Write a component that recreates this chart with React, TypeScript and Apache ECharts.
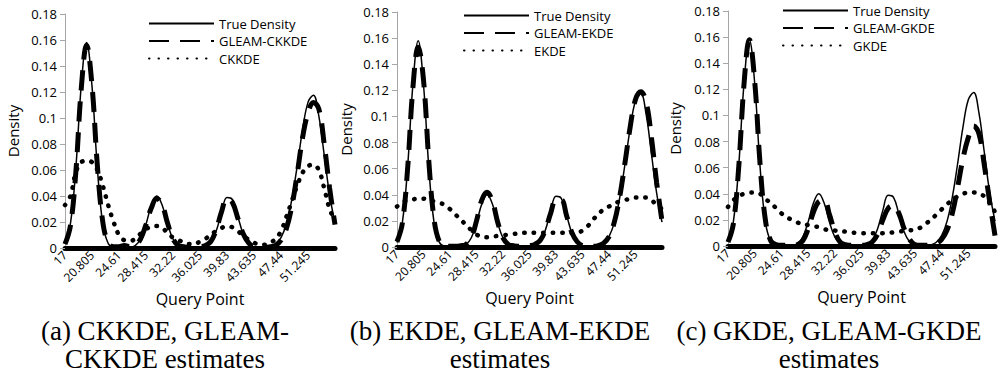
import React, { useEffect, useRef } from "react";
import * as echarts from "echarts";

const QUERY_POINTS = [
  "17", "17.761", "18.522", "19.283", "20.044", "20.805", "21.566", "22.327", "23.088", "23.849",
  "24.61", "25.371", "26.132", "26.893", "27.654", "28.415", "29.176", "29.937", "30.698", "31.459",
  "32.22", "32.981", "33.742", "34.503", "35.264", "36.025", "36.786", "37.547", "38.308", "39.069",
  "39.83", "40.591", "41.352", "42.113", "42.874", "43.635", "44.396", "45.157", "45.918", "46.679",
  "47.44", "48.201", "48.962", "49.723", "50.484", "51.245", "52.006", "52.767", "53.528", "54.289",
  "55.05",
];

const TICK_LABELS = ["17", "20.805", "24.61", "28.415", "32.22", "36.025", "39.83", "43.635", "47.44", "51.245"];

const TRUE_DENSITY = [
  0.0035, 0.0185, 0.061, 0.1245, 0.158, 0.1245, 0.061, 0.0185, 0.0035, 0.0004,
  0, 0, 0.0003, 0.0018, 0.0069, 0.0183, 0.0329, 0.04, 0.0329, 0.0183,
  0.0069, 0.0018, 0.0003, 0, 0, 0.0001, 0.0009, 0.0042, 0.013, 0.0273,
  0.0388, 0.0373, 0.0243, 0.0107, 0.0032, 0.0006, 0.0001, 0.0002, 0.0009, 0.0029,
  0.008, 0.0187, 0.0372, 0.063, 0.091, 0.112, 0.1175, 0.1017, 0.0716, 0.041,
  0.019,
];

const GLEAM_CKKDE = [
  0.003, 0.017, 0.058, 0.122, 0.156, 0.125, 0.063, 0.02, 0.004, 0.001,
  0.001, 0.002, 0.001, 0.002, 0.007, 0.018, 0.031, 0.038, 0.033, 0.019,
  0.007, 0.002, 0.001, 0.0005, 0.0005, 0.001, 0.002, 0.005, 0.014, 0.028,
  0.038, 0.035, 0.023, 0.011, 0.004, 0.001, 0.0005, 0.0005, 0.001, 0.002,
  0.006, 0.015, 0.032, 0.057, 0.085, 0.104, 0.112, 0.107, 0.08, 0.046,
  0.018,
];

const CKKDE = [
  0.033, 0.04, 0.058, 0.066, 0.067, 0.066, 0.06, 0.048, 0.033, 0.02,
  0.01, 0.006, 0.0055, 0.007, 0.011, 0.0145, 0.0165, 0.017, 0.0155, 0.0115,
  0.008, 0.006, 0.0045, 0.003, 0.003, 0.005, 0.007, 0.0105, 0.013, 0.0155,
  0.0165, 0.016, 0.013, 0.0095, 0.0065, 0.004, 0.003, 0.0025, 0.004, 0.007,
  0.013, 0.024, 0.036, 0.048, 0.058, 0.063, 0.064, 0.06, 0.046, 0.03,
  0.021,
];

const GLEAM_EKDE = [
  0.004, 0.018, 0.06, 0.122, 0.153, 0.128, 0.066, 0.021, 0.004, 0.001,
  0.0005, 0.0005, 0.001, 0.002, 0.007, 0.02, 0.036, 0.042, 0.035, 0.019,
  0.007, 0.002, 0.001, 0.0005, 0.0005, 0.001, 0.002, 0.005, 0.013, 0.026,
  0.036, 0.036, 0.024, 0.011, 0.004, 0.001, 0.0005, 0.0005, 0.001, 0.003,
  0.008, 0.019, 0.038, 0.064, 0.092, 0.113, 0.119, 0.111, 0.084, 0.049,
  0.02,
];

const EKDE = [
  0.031, 0.034, 0.036, 0.0365, 0.037, 0.037, 0.036, 0.035, 0.034, 0.032,
  0.029, 0.025, 0.021, 0.017, 0.013, 0.0095, 0.008, 0.0075, 0.008, 0.0085,
  0.009, 0.0095, 0.01, 0.0105, 0.011, 0.011, 0.011, 0.011, 0.011, 0.011,
  0.011, 0.011, 0.011, 0.0105, 0.011, 0.0125, 0.016, 0.021, 0.025, 0.029,
  0.031, 0.033, 0.035, 0.036, 0.037, 0.038, 0.038, 0.038, 0.036, 0.032,
  0.029,
];

const GLEAM_GKDE = [
  0.003, 0.017, 0.06, 0.124, 0.158, 0.126, 0.063, 0.02, 0.004, 0.001,
  0.0005, 0.0005, 0.0005, 0.001, 0.004, 0.013, 0.026, 0.034, 0.035, 0.024,
  0.011, 0.003, 0.001, 0.0005, 0.0005, 0.0005, 0.001, 0.003, 0.009, 0.02,
  0.029, 0.031, 0.025, 0.013, 0.005, 0.001, 0.0005, 0.0005, 0.001, 0.002,
  0.005, 0.012, 0.025, 0.045, 0.067, 0.083, 0.092, 0.086, 0.062, 0.034,
  0.008,
];

const GKDE = [
  0.03, 0.035, 0.038, 0.04, 0.041, 0.041, 0.04, 0.036, 0.033, 0.029,
  0.025, 0.022, 0.02, 0.018, 0.017, 0.016, 0.015, 0.0145, 0.013, 0.012,
  0.0118, 0.0115, 0.011, 0.0105, 0.01, 0.0097, 0.0097, 0.0097, 0.0097, 0.0098,
  0.01, 0.0105, 0.011, 0.0115, 0.012, 0.0125, 0.014, 0.017, 0.02, 0.024,
  0.028, 0.032, 0.035, 0.038, 0.04, 0.041, 0.041, 0.04, 0.038, 0.033,
  0.026,
];

const TRUE_NAME = "True Density";
const GLEAM_NAMES = ["GLEAM-CKKDE", "GLEAM-EKDE", "GLEAM-GKDE"];
const KDE_NAMES = ["CKKDE", "EKDE", "GKDE"];
const GLEAM_SERIES = [GLEAM_CKKDE, GLEAM_EKDE, GLEAM_GKDE];
const KDE_SERIES = [CKKDE, EKDE, GKDE];
const CAPTIONS = [
  ["(a) CKKDE, GLEAM-", "CKKDE estimates"],
  ["(b) EKDE, GLEAM-EKDE", "estimates"],
  ["(c) GKDE, GLEAM-GKDE", "estimates"],
];
const Y_AXIS_NAME = "Density";
const X_AXIS_NAME = "Query Point";

// layout (pixels)
const GRIDS = [
  { left: 65, top: 14, width: 270, height: 234 },
  { left: 397, top: 12, width: 265, height: 235 },
  { left: 728, top: 11, width: 267, height: 235 },
];
const Y_NAME_GAP = [45, 44, 46];
const LEGEND_POS = [
  { left: 148, top: 17 },
  { left: 463, top: 9 },
  { left: 782, top: 4 },
];
const CAPTION_X = [165, 500, 829];

const FONT = "'Open Sans', 'Noto Sans', sans-serif";

export default function App() {
  const ref = useRef<HTMLDivElement>(null);

  useEffect(() => {
    if (!ref.current) return;
    const chart = echarts.init(ref.current, undefined, { renderer: "svg" });

    const grid = GRIDS.map((g) => ({ ...g, containLabel: false }));

    const xAxis = GRIDS.map((_, k) => ({
      type: "category",
      gridIndex: k,
      data: QUERY_POINTS,
      boundaryGap: false,
      name: X_AXIS_NAME,
      nameLocation: "middle",
      nameGap: 38,
      nameTextStyle: { fontSize: 16, color: "#000", fontFamily: FONT },
      axisLine: { onZero: true, lineStyle: { color: "#000", width: 5 } },
      axisTick: { show: false },
      axisLabel: {
        rotate: 45,
        fontSize: 12,
        color: "#000",
        fontFamily: FONT,
        margin: 5,
        interval: (idx: number, value: string) => TICK_LABELS.includes(value),
      },
      splitLine: { show: false },
    }));

    const yAxis = GRIDS.map((_, k) => ({
      type: "value",
      gridIndex: k,
      min: 0,
      max: 0.18,
      interval: 0.02,
      name: Y_AXIS_NAME,
      nameLocation: "middle",
      nameGap: Y_NAME_GAP[k],
      nameTextStyle: { fontSize: 15, color: "#000", fontFamily: FONT },
      axisLine: { show: true, lineStyle: { color: "#a6a6a6", width: 1 } },
      axisTick: { show: true, length: 5, lineStyle: { color: "#a6a6a6" } },
      axisLabel: { fontSize: 13, color: "#000", fontFamily: FONT, margin: 8 },
      splitLine: { show: false },
    }));

    const series: any[] = [];
    for (let k = 0; k < 3; k++) {
      series.push({
        type: "line",
        name: TRUE_NAME,
        xAxisIndex: k,
        yAxisIndex: k,
        data: TRUE_DENSITY,
        smooth: 0.4,
        showSymbol: false,
        symbol: "none",
        lineStyle: { color: "#000", width: 1.5, type: "solid" },
        itemStyle: { color: "#000" },
        z: 2,
      });
      series.push({
        type: "line",
        name: GLEAM_NAMES[k],
        xAxisIndex: k,
        yAxisIndex: k,
        data: GLEAM_SERIES[k],
        smooth: 0.4,
        showSymbol: false,
        symbol: "none",
        lineStyle: { color: "#000", width: 5, type: [20, 11], cap: "butt" },
        itemStyle: { color: "#000" },
        z: 3,
      });
      series.push({
        type: "line",
        name: KDE_NAMES[k],
        xAxisIndex: k,
        yAxisIndex: k,
        data: KDE_SERIES[k],
        smooth: 0.4,
        showSymbol: false,
        symbol: "none",
        lineStyle: { color: "#000", width: 4.5, type: [0.5, 9], cap: "round" },
        itemStyle: { color: "#000" },
        z: 4,
      });
    }

    const legend = LEGEND_POS.map((p, k) => ({
      data: [TRUE_NAME, GLEAM_NAMES[k], KDE_NAMES[k]],
      orient: "vertical",
      left: p.left,
      top: p.top,
      itemWidth: 65,
      itemHeight: 14,
      itemGap: 4.5,
      padding: 0,
      selectedMode: false,
      itemStyle: { color: "rgba(0,0,0,0)", borderWidth: 0, opacity: 0 },
      textStyle: { fontSize: 13, color: "#000", fontFamily: FONT },
    }));

    const graphic: any[] = [];
    CAPTIONS.forEach((lines, k) => {
      lines.forEach((t, j) => {
        graphic.push({
          type: "text",
          x: CAPTION_X[k],
          y: j === 0 ? 331 : 359,
          style: {
            text: t,
            fontSize: 27,
            fontFamily: "'Liberation Serif', 'DejaVu Serif', serif",
            fill: "#000",
            align: "center",
            verticalAlign: "middle",
          },
        });
      });
    });

    chart.setOption({
      animation: false,
      backgroundColor: "#fff",
      textStyle: { fontFamily: FONT },
      grid,
      xAxis,
      yAxis,
      legend,
      series,
      graphic,
    });

    return () => chart.dispose();
  }, []);

  return (
    <div
      ref={ref}
      style={{ position: "fixed", left: 0, top: 0, width: 1000, height: 376 }}
    />
  );
}
